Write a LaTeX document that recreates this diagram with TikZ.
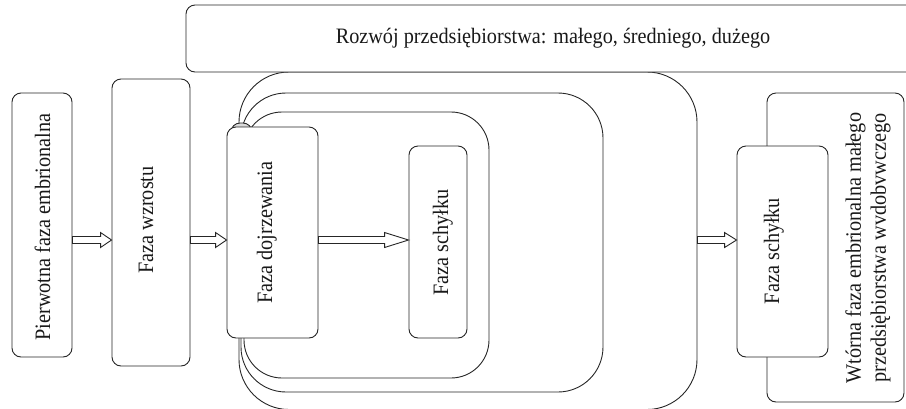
\documentclass[tikz,border=0pt]{standalone}
\usepackage{fontspec}
\setmainfont{Liberation Serif}[FakeStretch=0.92]
\usetikzlibrary{positioning,calc}

\begin{document}
\begin{tikzpicture}[
			x=1pt, y=-1pt,
			phasebox/.style={rectangle, draw=black!85, fill=white, line width=0.9pt, rounded corners=9pt, inner sep=0pt},
			framebox/.style={rectangle, draw=black!85, line width=0.9pt, inner sep=0pt},
			phasetext/.style={rotate=90, inner sep=0pt, font=\fontsize{22}{25}\selectfont, text=black!90},
			block/.style={draw=black!85, fill=white, line width=0.9pt,
				to path={let \p1=(\tikztostart), \p2=(\tikztotarget) in
					(\x1,\y1+3.5pt) -- (\x2-#1,\y1+3.5pt) -- (\x2-#1,\y1+7.5pt) -- (\x2,\y1)
					-- (\x2-#1,\y1-7.5pt) -- (\x2-#1,\y1-3.5pt) -- (\x1,\y1-3.5pt) -- cycle}},
			block/.default=11pt,
		]
		
			\useasboundingbox (0,0) rectangle (906,408);
			\coordinate (axis) at (0,240);
		
			%Frames
			\node[framebox, rounded corners=50pt, minimum width=458pt, minimum height=337.5pt]	(large)	at (468,240.75)	{};
			\node[framebox, rounded corners=45pt, minimum width=362pt, minimum height=299pt]	(medium)	at (422,242.5)	{};
			\node[framebox, rounded corners=38pt, minimum width=245pt, minimum height=266pt]	(small)	at (366.5,245)	{};
			\node[phasebox, minimum width=734pt, minimum height=67pt, font=\fontsize{22}{25}\selectfont, text=black!90]	(growth)	at (553,38.5)	{Rozwój przedsiębiorstwa: małego, średniego, dużego};
		
			%Phases
			\node[phasebox, minimum width=60pt, minimum height=264pt]	(embryo)	at (42,225)	{};
			\node[phasebox, minimum width=78pt, minimum height=287pt]	(rise)	at (151,222.5)	{};
			\node[phasebox, fill=gray!30, minimum width=21pt, minimum height=77pt]	(mature-bg)	at (241.5,161.5)	{};
			\node[phasebox, minimum width=91pt, minimum height=211pt]	(mature)	at (272.5,232.5)	{};
			\node[phasebox, minimum width=58pt, minimum height=192pt]	(decline)	at (438,242)	{};
			\node[phasebox, minimum width=137pt, minimum height=309pt]	(rebirth)	at (835.5,247.5)	{};
			\node[phasebox, minimum width=91pt, minimum height=211pt]	(decline2)	at (782.5,251.5)	{};
		
			%Texts
			\node[phasetext, anchor=base]	(embryo-t)	at (50,227)	{Pierwotna faza embrionalna};
			\node[phasetext, anchor=base]	(rise-t)	at (153,220)	{Faza wzrostu};
			\node[phasetext, anchor=base]	(mature-t)	at (272,232.5)	{Faza dojrzewania};
			\node[phasetext, anchor=base]	(decline-t)	at (448,242.5)	{Faza schyłku};
			\node[phasetext, anchor=base]	(decline2-t)	at (779,251)	{Faza schyłku};
			\node[phasetext, align=center]	(rebirth-t)	at (868,248)	{Wtórna faza embrionalna małego\\przedsiębiorstwa wvdobvwczego};
		
			%Lines
			\draw[block]		(embryo.east |- axis) to (rise.west |- axis);
			\draw[block]		(rise.east |- axis) to (mature.west |- axis);
			\draw[block=24pt]	(mature.east |- axis) to (decline.west |- axis);
			\draw[block=12pt]	(large.east |- axis) to (decline2.west |- axis);
		
		\end{tikzpicture}
\end{document}
